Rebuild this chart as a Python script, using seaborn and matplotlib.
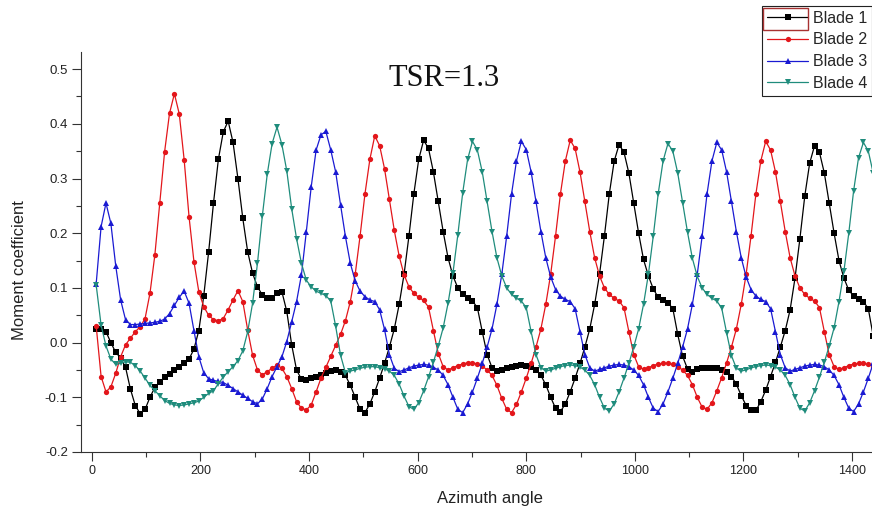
import numpy as np
import pandas as pd
import matplotlib
matplotlib.use("Agg")
import matplotlib.pyplot as plt
import seaborn as sns
from matplotlib.patches import Rectangle
from matplotlib.ticker import MultipleLocator

# ---------------- data ----------------
angle = np.arange(8, 1440, 9)          # azimuth sample positions (deg)

blade1 = [0.025, 0.024, 0.020, 0.000, -0.018, -0.028, -0.045, -0.085, -0.115, -0.130,
          -0.122, -0.100, -0.082, -0.072, -0.063, -0.057, -0.050, -0.044, -0.038, -0.030,
          -0.012, 0.022, 0.085, 0.165, 0.255, 0.335, 0.385, 0.405, 0.366, 0.300,
          0.227, 0.166, 0.127, 0.102, 0.087, 0.081, 0.082, 0.090, 0.093, 0.057,
          -0.004, -0.050, -0.067, -0.068, -0.065, -0.062, -0.059, -0.056, -0.051, -0.050,
          -0.053, -0.060, -0.078, -0.100, -0.122, -0.128, -0.112, -0.090, -0.065, -0.038,
          -0.008, 0.025, 0.070, 0.125, 0.195, 0.272, 0.335, 0.370, 0.355, 0.312,
          0.258, 0.203, 0.155, 0.122, 0.100, 0.088, 0.081, 0.076, 0.064, 0.020,
          -0.022, -0.046, -0.052, -0.050, -0.047, -0.044, -0.042, -0.041, -0.042, -0.045,
          -0.050, -0.060, -0.077, -0.100, -0.120, -0.126, -0.112, -0.090, -0.065, -0.038,
          -0.008, 0.025, 0.070, 0.125, 0.195, 0.272, 0.332, 0.362, 0.348, 0.310,
          0.255, 0.200, 0.152, 0.122, 0.098, 0.083, 0.077, 0.073, 0.062, 0.015,
          -0.025, -0.048, -0.053, -0.049, -0.047, -0.046, -0.046, -0.047, -0.050, -0.054,
          -0.062, -0.076, -0.097, -0.115, -0.124, -0.124, -0.108, -0.087, -0.062, -0.036,
          -0.008, 0.022, 0.060, 0.118, 0.190, 0.268, 0.328, 0.360, 0.348, 0.310,
          0.255, 0.200, 0.150, 0.118, 0.096, 0.085, 0.080, 0.075, 0.062, 0.012]

blade2 = [0.030, -0.062, -0.090, -0.081, -0.056, -0.026, -0.004, 0.008, 0.020, 0.029,
          0.044, 0.090, 0.160, 0.255, 0.349, 0.419, 0.455, 0.418, 0.334, 0.230,
          0.148, 0.093, 0.066, 0.050, 0.042, 0.040, 0.044, 0.060, 0.078, 0.095,
          0.075, 0.023, -0.023, -0.050, -0.059, -0.053, -0.047, -0.041, -0.047, -0.062,
          -0.084, -0.108, -0.120, -0.123, -0.114, -0.090, -0.065, -0.045, -0.025, -0.005,
          0.015, 0.040, 0.075, 0.125, 0.195, 0.272, 0.335, 0.378, 0.360, 0.318,
          0.262, 0.205, 0.158, 0.124, 0.102, 0.090, 0.083, 0.077, 0.065, 0.022,
          -0.020, -0.044, -0.050, -0.046, -0.042, -0.039, -0.037, -0.037, -0.039, -0.043,
          -0.050, -0.060, -0.078, -0.102, -0.122, -0.128, -0.113, -0.090, -0.065, -0.038,
          -0.008, 0.025, 0.070, 0.125, 0.195, 0.272, 0.332, 0.370, 0.355, 0.312,
          0.258, 0.203, 0.155, 0.122, 0.100, 0.088, 0.081, 0.076, 0.064, 0.020,
          -0.022, -0.044, -0.049, -0.046, -0.042, -0.039, -0.038, -0.038, -0.040, -0.044,
          -0.050, -0.060, -0.077, -0.100, -0.118, -0.122, -0.110, -0.088, -0.064, -0.037,
          -0.008, 0.025, 0.070, 0.125, 0.195, 0.272, 0.332, 0.368, 0.352, 0.312,
          0.258, 0.203, 0.155, 0.122, 0.100, 0.088, 0.081, 0.076, 0.064, 0.020,
          -0.022, -0.044, -0.049, -0.046, -0.042, -0.039, -0.038, -0.038, -0.040, -0.044]

blade3 = [0.108, 0.212, 0.255, 0.218, 0.140, 0.078, 0.042, 0.033, 0.033, 0.034,
          0.035, 0.036, 0.037, 0.039, 0.043, 0.053, 0.068, 0.083, 0.094, 0.072,
          0.022, -0.026, -0.055, -0.066, -0.069, -0.071, -0.073, -0.078, -0.084, -0.090,
          -0.096, -0.102, -0.108, -0.112, -0.103, -0.084, -0.062, -0.044, -0.026, 0.002,
          0.038, 0.075, 0.124, 0.203, 0.285, 0.352, 0.380, 0.386, 0.352, 0.312,
          0.252, 0.194, 0.145, 0.113, 0.094, 0.084, 0.078, 0.075, 0.060, 0.024,
          -0.022, -0.047, -0.053, -0.050, -0.046, -0.043, -0.041, -0.040, -0.041, -0.045,
          -0.050, -0.060, -0.077, -0.100, -0.122, -0.128, -0.112, -0.090, -0.065, -0.038,
          -0.008, 0.025, 0.070, 0.125, 0.195, 0.272, 0.332, 0.368, 0.353, 0.312,
          0.258, 0.203, 0.155, 0.120, 0.097, 0.085, 0.079, 0.075, 0.062, 0.020,
          -0.022, -0.046, -0.052, -0.049, -0.046, -0.043, -0.041, -0.040, -0.041, -0.044,
          -0.050, -0.060, -0.077, -0.100, -0.120, -0.126, -0.112, -0.090, -0.065, -0.038,
          -0.008, 0.025, 0.070, 0.125, 0.195, 0.272, 0.332, 0.366, 0.352, 0.312,
          0.258, 0.203, 0.155, 0.120, 0.097, 0.085, 0.079, 0.075, 0.062, 0.020,
          -0.022, -0.046, -0.052, -0.049, -0.046, -0.043, -0.041, -0.040, -0.041, -0.044,
          -0.050, -0.060, -0.077, -0.100, -0.120, -0.126, -0.112, -0.090, -0.065, -0.038]

blade4 = [0.105, 0.032, -0.006, -0.030, -0.040, -0.038, -0.035, -0.036, -0.042, -0.052,
          -0.065, -0.078, -0.088, -0.097, -0.106, -0.111, -0.114, -0.115, -0.114, -0.112,
          -0.110, -0.107, -0.100, -0.093, -0.088, -0.075, -0.063, -0.053, -0.044, -0.033,
          -0.015, 0.020, 0.072, 0.145, 0.232, 0.308, 0.364, 0.394, 0.362, 0.314,
          0.245, 0.190, 0.145, 0.114, 0.102, 0.094, 0.090, 0.086, 0.076, 0.030,
          -0.023, -0.055, -0.052, -0.050, -0.047, -0.045, -0.044, -0.044, -0.046, -0.048,
          -0.052, -0.060, -0.076, -0.098, -0.117, -0.122, -0.110, -0.088, -0.063, -0.036,
          -0.006, 0.027, 0.072, 0.127, 0.197, 0.274, 0.335, 0.368, 0.352, 0.312,
          0.258, 0.203, 0.155, 0.122, 0.100, 0.088, 0.081, 0.076, 0.064, 0.020,
          -0.022, -0.046, -0.052, -0.050, -0.047, -0.044, -0.042, -0.041, -0.042, -0.045,
          -0.050, -0.060, -0.077, -0.100, -0.120, -0.125, -0.112, -0.090, -0.065, -0.038,
          -0.008, 0.025, 0.070, 0.125, 0.195, 0.272, 0.332, 0.364, 0.350, 0.310,
          0.256, 0.202, 0.154, 0.121, 0.100, 0.088, 0.081, 0.076, 0.063, 0.018,
          -0.024, -0.047, -0.052, -0.050, -0.046, -0.044, -0.042, -0.041, -0.042, -0.045,
          -0.050, -0.060, -0.077, -0.100, -0.120, -0.125, -0.110, -0.088, -0.063, -0.036,
          -0.006, 0.027, 0.075, 0.130, 0.200, 0.278, 0.338, 0.366, 0.350, 0.310]

blade_names = ["Blade 1", "Blade 2", "Blade 3", "Blade 4"]
series = [blade1, blade2, blade3, blade4]
colors = ["#000000", "#e3161b", "#1a1ad2", "#1f8c7c"]
markers = ["s", "o", "^", "v"]

for name, s in zip(blade_names, series):
    if len(s) != len(angle):
        raise SystemExit(f"{name}: {len(s)} values, expected {len(angle)}")

df = pd.concat(
    [pd.DataFrame({"Azimuth angle": angle, "Moment coefficient": s, "Blade": n})
     for n, s in zip(blade_names, series)],
    ignore_index=True,
)

# ---------------- style ----------------
sns.set_style("ticks")
plt.rcParams["font.family"] = ["Liberation Sans", "DejaVu Sans"]

W, H = 872, 514
fig = plt.figure(figsize=(W / 100, H / 100), dpi=100)
ax = fig.add_axes([81 / W, 62 / H, 803.6 / W, 400 / H])

sns.lineplot(
    data=df, x="Azimuth angle", y="Moment coefficient",
    hue="Blade", style="Blade", hue_order=blade_names, style_order=blade_names,
    palette=colors, markers=markers, dashes=False,
    linewidth=0.9, markersize=3.8, markeredgewidth=0,
    estimator=None, sort=False, legend=False, ax=ax,
)

ax.set_xlim(-20, 1460)
ax.set_ylim(-0.2, 0.5313)
ax.xaxis.set_major_locator(MultipleLocator(200))
ax.xaxis.set_minor_locator(MultipleLocator(100))
ax.yaxis.set_major_locator(MultipleLocator(0.1))
ax.yaxis.set_minor_locator(MultipleLocator(0.05))
ax.yaxis.set_major_formatter(matplotlib.ticker.FormatStrFormatter("%.1f"))

for side in ("top", "right"):
    ax.spines[side].set_visible(False)
for side in ("left", "bottom"):
    ax.spines[side].set_linewidth(0.8)
    ax.spines[side].set_color("#333333")

ax.tick_params(axis="both", which="major", direction="out", length=6.5, width=0.8,
               color="#333333", labelcolor="#222222")
ax.tick_params(axis="both", which="minor", direction="out", length=3.5, width=0.8,
               color="#333333")
ax.tick_params(axis="y", pad=3, labelsize=9.5)
ax.tick_params(axis="x", pad=2.5, labelsize=9)

ax.set_xlabel("")
ax.set_ylabel("")
fig.text(490 / W, 1 - 499 / H, "Azimuth angle", ha="center", va="center",
         fontsize=12, color="#222222")
fig.text(19 / W, 1 - 270 / H, "Moment coefficient", ha="center", va="center",
         rotation=90, fontsize=12, color="#222222")

fig.text(444 / W, 1 - 79 / H, "TSR=1.3", ha="center", va="center",
         fontsize=22, family=["Liberation Serif", "DejaVu Serif"], color="#111111")

leg = ax.legend(
    handles=ax.lines[:4], labels=blade_names,
    loc="upper left", bbox_to_anchor=(762 / W, 1 - 6 / H),
    bbox_transform=fig.transFigure, borderaxespad=0,
    frameon=True, fancybox=False, framealpha=1, edgecolor="#222222",
    fontsize=11.5, handlelength=2.6, handletextpad=0.3, labelspacing=0.42,
    borderpad=0.3, numpoints=1,
)
leg.get_frame().set_linewidth(0.8)

fig.add_artist(Rectangle((763 / W, 1 - 30 / H), 45 / W, 22 / H,
                         transform=fig.transFigure, fill=False,
                         edgecolor="#a83232", linewidth=1.0))

fig.savefig("out.png", dpi=100)
